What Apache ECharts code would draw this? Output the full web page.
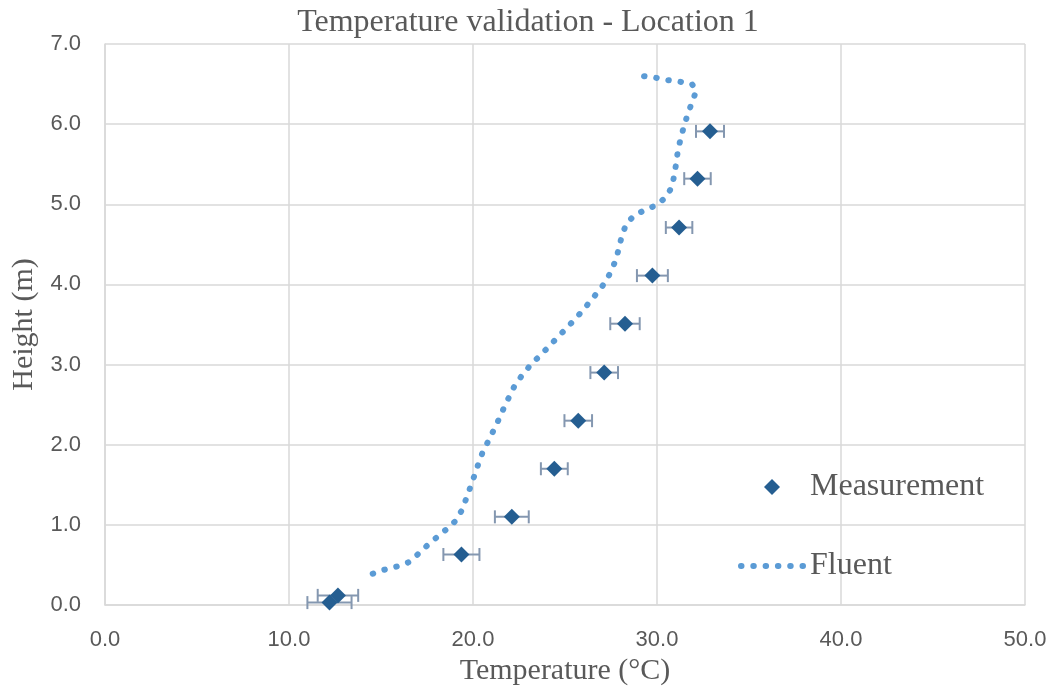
<!DOCTYPE html>
<html>
<head>
<meta charset="utf-8">
<script src="https://cdn.jsdelivr.net/npm/echarts@6/dist/echarts.min.js"></script>
<style>html,body{margin:0;padding:0;background:#fff;}#c{width:1056px;height:692px;}</style>
</head>
<body>
<div id="c"></div>
<script>
// Measurement data
const measTemp = [12.2, 12.66, 19.37, 22.11, 24.42, 25.72, 27.13, 28.26, 29.75, 31.2, 32.2, 32.88];
const measHeight = [0.03, 0.12, 0.63, 1.10, 1.70, 2.30, 2.90, 3.51, 4.11, 4.71, 5.32, 5.91];
const measErr = [1.2, 1.1, 0.98, 0.92, 0.73, 0.75, 0.75, 0.8, 0.84, 0.72, 0.72, 0.76];

// Fluent simulation profile
const fluentTemp = [14.55, 15.18, 15.85, 16.47, 16.99, 17.5, 18.01, 18.53, 19.01, 19.39, 19.62, 19.84, 20.07, 20.29, 20.53, 20.82, 21.12, 21.41, 21.68, 21.97, 22.27, 22.68, 23.11, 23.59, 24.06, 24.51, 24.98, 25.43, 25.91, 26.34, 26.76, 27.17, 27.5, 27.75, 27.93, 28.08, 28.32, 28.75, 29.36, 29.98, 30.49, 30.82, 30.94, 31.05, 31.14, 31.3, 31.47, 31.68, 31.9, 32.14, 31.9, 31.23, 30.56, 29.89, 29.24];
const fluentHeight = [0.39, 0.44, 0.48, 0.53, 0.63, 0.74, 0.84, 0.94, 1.04, 1.18, 1.32, 1.46, 1.61, 1.76, 1.91, 2.04, 2.18, 2.32, 2.46, 2.60, 2.74, 2.87, 2.99, 3.10, 3.21, 3.32, 3.43, 3.54, 3.66, 3.78, 3.90, 4.02, 4.16, 4.30, 4.45, 4.60, 4.75, 4.86, 4.93, 4.99, 5.09, 5.22, 5.37, 5.52, 5.68, 5.83, 5.98, 6.13, 6.27, 6.42, 6.50, 6.53, 6.55, 6.58, 6.60];

const xTicks = [0, 10, 20, 30, 40, 50];
const yTicks = [0, 1, 2, 3, 4, 5, 6, 7];

const measData = measTemp.map((t, i) => [t, measHeight[i]]);
const errData = measTemp.map((t, i) => [t, measHeight[i], measErr[i]]);
const fluentData = fluentTemp.map((t, i) => [t, fluentHeight[i]]);

const chart = echarts.init(document.getElementById('c'), null, {renderer: 'canvas'});
const serif = '"Liberation Serif", "Times New Roman", serif';
const sans = '"Liberation Sans", Arial, sans-serif';
const textColor = '#595959';
const dotDash = [0.5, 11.8];

chart.setOption({
  animation: false,
  backgroundColor: '#fff',
  title: {
    text: 'Temperature validation - Location 1',
    left: 'center',
    top: 2,
    textStyle: {fontFamily: serif, fontSize: 32, fontWeight: 'normal', color: textColor}
  },
  grid: {left: 105, right: 31, top: 44, bottom: 87},
  legend: [
    {
      data: ['Measurement'],
      left: 759, top: 466,
      itemWidth: 16, itemHeight: 16,
      textStyle: {fontFamily: serif, fontSize: 32, color: textColor, lineHeight: 32, padding: [0, 0, 0, 25]}
    },
    {
      data: [{name: 'Fluent', itemStyle: {color: 'rgba(0,0,0,0)', borderWidth: 0, opacity: 0}}],
      left: 733, top: 545,
      itemWidth: 64, itemHeight: 16,
      lineStyle: {width: 6, type: dotDash, cap: 'round', color: '#5b9bd5', opacity: 1},
      textStyle: {fontFamily: serif, fontSize: 32, color: textColor, lineHeight: 32, padding: [0, 0, 0, 0]}
    }
  ],
  xAxis: {
    type: 'value', min: xTicks[0], max: xTicks[xTicks.length - 1], interval: 10,
    name: 'Temperature (°C)', nameLocation: 'middle', nameGap: 36,
    nameTextStyle: {fontFamily: serif, fontSize: 30, color: textColor},
    axisLine: {show: true, lineStyle: {color: '#d9d9d9', width: 1.5}},
    axisTick: {show: false},
    axisLabel: {fontFamily: sans, fontSize: 22, color: textColor, margin: 24, formatter: v => v.toFixed(1)},
    splitLine: {show: true, lineStyle: {color: '#d9d9d9', width: 1.5}}
  },
  yAxis: {
    type: 'value', min: yTicks[0], max: yTicks[yTicks.length - 1], interval: 1,
    name: 'Height (m)', nameLocation: 'middle', nameGap: 66,
    nameTextStyle: {fontFamily: serif, fontSize: 30, color: textColor},
    axisLine: {show: true, lineStyle: {color: '#d9d9d9', width: 1.5}},
    axisTick: {show: false},
    axisLabel: {fontFamily: sans, fontSize: 22, color: textColor, margin: 24, formatter: v => v.toFixed(1)},
    splitLine: {show: true, lineStyle: {color: '#d9d9d9', width: 1.5}}
  },
  series: [
    {
      name: 'Fluent',
      type: 'line',
      data: fluentData,
      showSymbol: false,
      symbol: 'none',
      smooth: false,
      lineStyle: {color: '#5b9bd5', width: 6, type: dotDash, cap: 'round'},
      itemStyle: {color: '#5b9bd5'},
      z: 2
    },
    {
      name: 'ErrorBars',
      type: 'custom',
      data: errData,
      renderItem: function (params, api) {
        const x = api.value(0), y = api.value(1), e = api.value(2);
        const p1 = api.coord([x - e, y]);
        const p2 = api.coord([x + e, y]);
        const h = 6.5;
        const style = {stroke: '#8497b0', lineWidth: 2};
        return {
          type: 'group',
          children: [
            {type: 'line', shape: {x1: p1[0], y1: p1[1], x2: p2[0], y2: p2[1]}, style: style},
            {type: 'line', shape: {x1: p1[0], y1: p1[1] - h, x2: p1[0], y2: p1[1] + h}, style: style},
            {type: 'line', shape: {x1: p2[0], y1: p2[1] - h, x2: p2[0], y2: p2[1] + h}, style: style}
          ]
        };
      },
      z: 3
    },
    {
      name: 'Measurement',
      type: 'scatter',
      data: measData,
      symbol: 'diamond',
      symbolSize: 16,
      itemStyle: {color: '#255e91', opacity: 1},
      z: 4
    }
  ]
});
</script>
</body>
</html>
